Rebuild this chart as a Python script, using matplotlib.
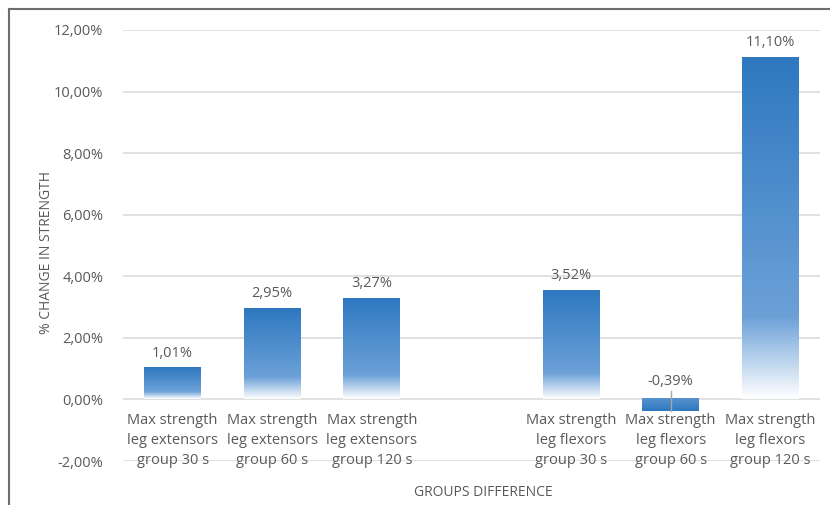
import matplotlib.pyplot as plt
import numpy as np
from matplotlib.colors import LinearSegmentedColormap
from matplotlib.lines import Line2D

plt.rcParams['font.family'] = ['Open Sans', 'DejaVu Sans']

categories = [
    'Max strength\nleg extensors\ngroup 30 s',
    'Max strength\nleg extensors\ngroup 60 s',
    'Max strength\nleg extensors\ngroup 120 s',
    '',
    'Max strength\nleg flexors\ngroup 30 s',
    'Max strength\nleg flexors\ngroup 60 s',
    'Max strength\nleg flexors\ngroup 120 s',
]
values = [1.01, 2.95, 3.27, None, 3.52, -0.39, 11.10]
yticks = [-2, 0, 2, 4, 6, 8, 10, 12]

text_gray = '#595959'
grad = LinearSegmentedColormap.from_list(
    'bar_grad', [(0.0, '#2E78C0'), (0.76, '#6CA1D8'), (1.0, '#FFFFFF')])

fig = plt.figure(figsize=(8.3, 5.05), dpi=100)
ax = fig.add_axes([0.148, 0.0871, 0.84, 0.8535])

x = np.arange(len(categories))
width = 0.57

ax.set_xlim(-0.5, len(categories) - 0.5)
ax.set_ylim(-2, 12)

# gridlines
for t in yticks:
    ax.axhline(t, color='#D9D9D9', lw=1.1, zorder=0)

# bars with vertical gradient, dark at the value end
column = np.linspace(0, 1, 256).reshape(-1, 1)
for xi, v in zip(x, values):
    if v is None:
        continue
    left, right = xi - width / 2, xi + width / 2
    if v >= 0:
        ax.imshow(column, cmap=grad, aspect='auto', extent=(left, right, 0, v),
                  origin='upper', zorder=2, interpolation='bilinear')
        ax.text(xi, v + 0.25, f'{v:.2f}%'.replace('.', ','), ha='center', va='bottom',
                fontsize=10.5, color=text_gray, zorder=4)
    else:
        ax.imshow(column * 0.5, cmap=grad, aspect='auto', extent=(left, right, v, 0),
                  origin='lower', zorder=2, interpolation='bilinear', vmin=0, vmax=1)
        ax.plot([xi, xi], [0.27, v], color='#A6A6A6', lw=1, zorder=3)
        ax.text(xi, 0.35, f'{v:.2f}%'.replace('.', ','), ha='center', va='bottom',
                fontsize=10.5, color=text_gray, zorder=4)

# category labels hanging just below the zero line
for xi, lab in zip(x, categories):
    ax.annotate(lab, (xi, 0), xytext=(0, -9.5), textcoords='offset points',
                ha='center', va='top', fontsize=10.5, color=text_gray,
                linespacing=1.45)

ax.set_xticks([])
ax.set_yticks(yticks)
ax.set_yticklabels([f'{t:.2f}%'.replace('.', ',') for t in yticks])
ax.tick_params(axis='y', length=0, pad=14, labelsize=10.5, labelcolor=text_gray)
for s in ax.spines.values():
    s.set_visible(False)

fig.text(0.056, 0.5, '% CHANGE IN STRENGTH', rotation=90, ha='center', va='center',
         fontsize=10, color=text_gray)
fig.text(0.582, 0.024, 'GROUPS DIFFERENCE', ha='center', va='center',
         fontsize=10, color=text_gray)

# outer frame, top and left edges only
fig.add_artist(Line2D([0.011, 1.0], [0.982, 0.982], color='#6E6E6E', lw=1.5))
fig.add_artist(Line2D([0.011, 0.011], [0.0, 0.982], color='#6E6E6E', lw=1.5))

fig.savefig('out.png', dpi=100)
